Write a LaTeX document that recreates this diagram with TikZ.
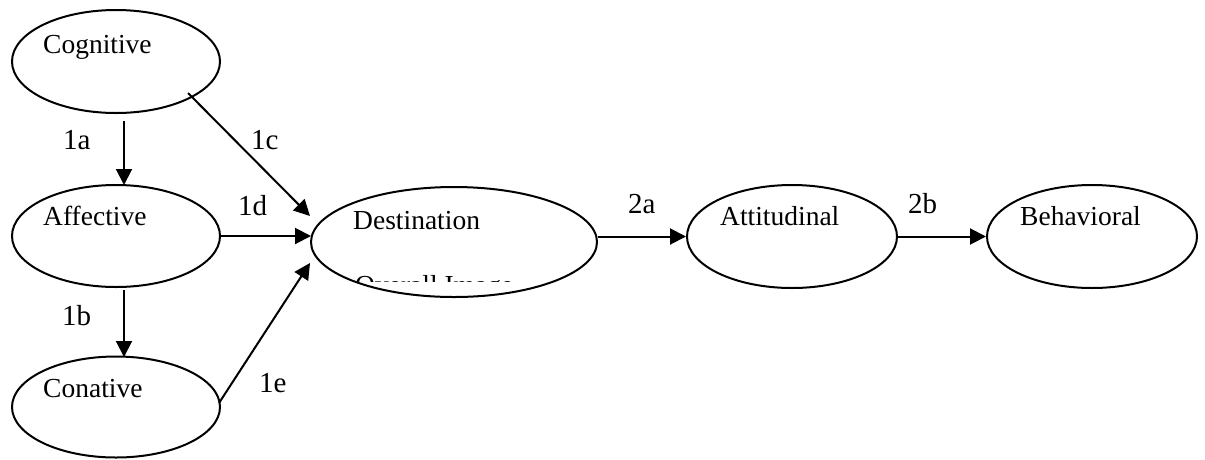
\documentclass[tikz,border=0pt]{standalone}
\usepackage{fontspec}
\setmainfont{Liberation Serif}
\usetikzlibrary{arrows.meta,shapes.geometric}
\begin{document}
\begin{tikzpicture}[x=1pt,y=-1pt,
  oval/.style={draw,ellipse,line width=2pt,inner sep=0pt},
  txt/.style={anchor=base west,inner sep=0pt,font=\fontsize{27.5}{33}\selectfont},
  lab/.style={anchor=base west,inner sep=0pt,font=\fontsize{29}{35}\selectfont},
  conn/.style={line width=2pt,-{Triangle[length=16pt,width=16pt]}}]
\useasboundingbox (0,0) rectangle (1205,459);
% ellipses
\node[oval,minimum width=208pt,minimum height=103pt] (cog) at (116,61.5) {};
\node[oval,minimum width=208pt,minimum height=102pt] (aff) at (116,236) {};
\node[oval,minimum width=208pt,minimum height=101pt] (con) at (116,407) {};
\node[oval,minimum width=286pt,minimum height=110pt] (dest) at (454,242) {};
\node[oval,minimum width=210pt,minimum height=103pt] (att) at (792,236.5) {};
\node[oval,minimum width=210pt,minimum height=103pt] (beh) at (1092,236.5) {};
% texts
\node[txt] (tcog) at (43,53) {Cognitive};
\node[txt] (taff) at (43,225) {Affective};
\node[txt] (tcon) at (43,397) {Conative};
\node[txt] (tdest) at (353,229) {Destination};
\begin{scope}
\clip (330,260) rectangle (600,281);
\node[txt] (tdest2) at (355,294) {Overall Image};
\end{scope}
\node[txt] (tatt) at (720,225) {Attitudinal};
\node[txt] (tbeh) at (1020,225) {Behavioral};
% connector end points
\coordinate (a1s) at (124,121);
\coordinate (a1e) at (124,185);
\coordinate (b1s) at (124,290);
\coordinate (b1e) at (124,357);
\coordinate (c1s) at (188,93);
\coordinate (c1e) at (310,216);
\coordinate (d1e) at (311,236);
\coordinate (e1s) at (219,403);
\coordinate (e1e) at (310,263);
% connectors
\draw[conn] (a1s) -- (a1e);
\draw[conn] (b1s) -- (b1e);
\draw[conn] (c1s) -- (c1e);
\draw[conn] (aff.east) -- (d1e);
\draw[conn] (e1s) -- (e1e);
\draw[conn] (dest.east |- att.west) -- (att.west);
\draw[conn] (att.east) -- (beh.west);
% labels
\node[lab] (l1a) at (63,149) {1a};
\node[lab] (l1b) at (62,325) {1b};
\node[lab] (l1c) at (251,149) {1c};
\node[lab] (l1d) at (238,215) {1d};
\node[lab] (l1e) at (259,392) {1e};
\node[lab] (l2a) at (628,213) {2a};
\node[lab] (l2b) at (908,213) {2b};
\end{tikzpicture}
\end{document}
